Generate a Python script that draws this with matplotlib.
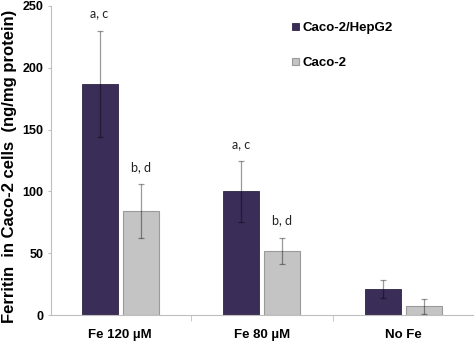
import matplotlib
matplotlib.use("Agg")
import matplotlib.pyplot as plt
import numpy as np

categories = ["Fe 120 µM", "Fe 80 µM", "No Fe"]
series_names = ["Caco-2/HepG2", "Caco-2"]
hepg2_vals = [187, 100, 21]
hepg2_err = [43, 24.5, 7]
caco_vals = [84, 52, 7]
caco_err = [22, 10.5, 6]
hepg2_labels = ["a, c", "a, c", ""]
caco_labels = ["b, d", "b, d", ""]
y_ticks = [0, 50, 100, 150, 200, 250]

plt.rcParams['font.family'] = ['Liberation Sans', 'DejaVu Sans']

fig = plt.figure(figsize=(4.74, 3.41), dpi=100)
ax = fig.add_axes([51/474, 1-315/341, 423/474, 309/341])

x = np.arange(len(categories))
w = 0.254
off = 0.145
dark = '#3a2d57'
light = '#c4c4c4'

ax.bar(x - off, hepg2_vals, w, color=dark, edgecolor='#2e2446', linewidth=0.6, label=series_names[0], zorder=2)
ax.bar(x + off, caco_vals, w, color=light, edgecolor='#9a9a9a', linewidth=0.8, label=series_names[1], zorder=2)
ekw = dict(fmt='none', ecolor='black', alpha=0.4, elinewidth=0.9, capsize=2.5, capthick=0.9, zorder=3)
ax.errorbar(x - off, hepg2_vals, yerr=hepg2_err, **ekw)
ax.errorbar(x + off, caco_vals, yerr=caco_err, **ekw)

for xi, v, e, t in zip(x - off, hepg2_vals, hepg2_err, hepg2_labels):
    if t:
        ax.text(xi, v + e + 14, t, ha='center', va='center', fontsize=9, family='Lato', color='#222222')
for xi, v, e, t in zip(x + off, caco_vals, caco_err, caco_labels):
    if t:
        ax.text(xi, v + e + 14, t, ha='center', va='center', fontsize=9, family='Lato', color='#222222')

ax.set_xlim(-0.488, 2.497)
ax.set_ylim(0, 250)
ax.set_yticks(y_ticks)
ax.set_yticklabels([str(t) for t in y_ticks], fontweight='bold', fontsize=9)
ax.set_xticks(x)
ax.set_xticklabels(categories, fontweight='bold', fontsize=9.5)
ax.tick_params(axis='x', which='major', length=0, pad=10)
ax.set_xticks([0.5, 1.5], minor=True)
ax.tick_params(axis='x', which='minor', length=4, color='#bfbfbf', direction='out')
ax.tick_params(axis='y', length=2.5, color='#bfbfbf', pad=3)

for s in ['top', 'right']:
    ax.spines[s].set_visible(False)
for s in ['left', 'bottom']:
    ax.spines[s].set_color('#bfbfbf')
    ax.spines[s].set_linewidth(0.8)

ax.set_ylabel("Ferritin  in Caco-2 cells  (ng/mg protein)", fontweight='bold', fontsize=12, va='center')
ax.yaxis.set_label_coords(-0.097, 0.48)

leg = ax.legend(loc='upper left', bbox_to_anchor=(292/474, 1-22/341), bbox_transform=fig.transFigure,
                frameon=False, prop={'weight': 'bold', 'size': 9.5}, handlelength=0.5, handleheight=0.5,
                handletextpad=0.3, labelspacing=1.75, borderpad=0, borderaxespad=0)

fig.savefig("out.png", dpi=100)
